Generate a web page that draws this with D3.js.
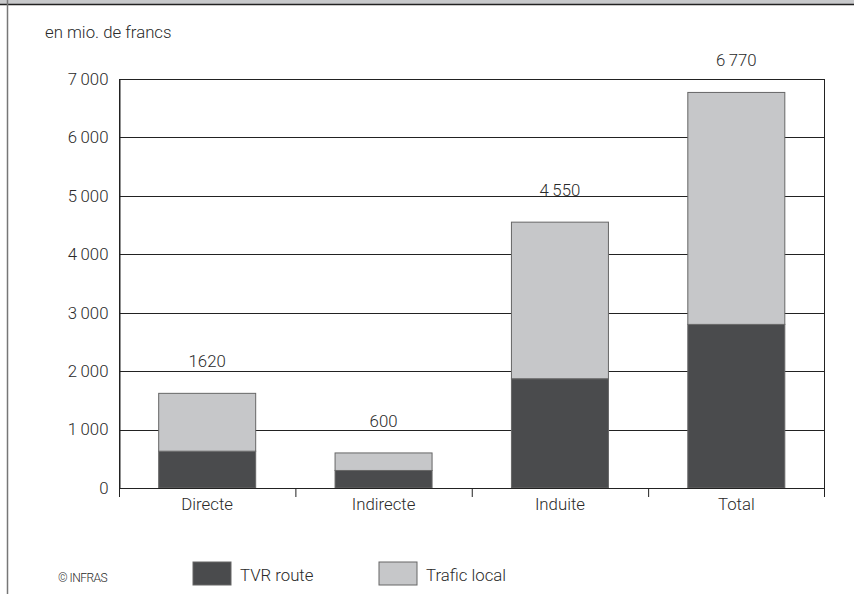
<!DOCTYPE html>
<html>
<head>
<meta charset="utf-8">
<script src="https://cdn.jsdelivr.net/npm/d3@7"></script>
<style>
  html, body { margin: 0; padding: 0; background: #fff; }
  svg { display: block; }
  text { font-family: Roboto, "Liberation Sans", sans-serif; font-weight: 300; fill: #2a2a2a; }
</style>
</head>
<body>
<div id="chart"></div>
<script>
const categories = ["Directe", "Indirecte", "Induite", "Total"];
const tvrRoute = [630, 300, 1870, 2800];
const traficLocal = [990, 300, 2680, 3970];
const totalLabels = ["1620", "600", "4\u2009550", "6\u2009770"];
const yTicks = [0, 1000, 2000, 3000, 4000, 5000, 6000, 7000];
const yTickLabels = ["0", "1\u2009000", "2\u2009000", "3\u2009000", "4\u2009000", "5\u2009000", "6\u2009000", "7\u2009000"];
const seriesNames = ["TVR route", "Trafic local"];
const seriesColors = ["#4a4b4d", "#c6c7c9"];

const W = 854, H = 594;
const svg = d3.select("#chart").append("svg").attr("width", W).attr("height", H);

// top band and left border
svg.append("rect").attr("x", 0).attr("y", 0).attr("width", W).attr("height", 4).attr("fill", "#c8c9cb");
svg.append("line").attr("x1", 0).attr("x2", W).attr("y1", 4.5).attr("y2", 4.5).attr("stroke", "#222").attr("stroke-width", 1.5);
svg.append("line").attr("x1", 7.5).attr("x2", 7.5).attr("y1", 0).attr("y2", H).attr("stroke", "#777").attr("stroke-width", 1.5);

const margin = { left: 119, right: 854 - 824.5, top: 79, bottom: 594 - 488 };
const x = d3.scaleBand().domain(categories).range([margin.left, W - margin.right]).paddingInner(0.45).paddingOuter(0.225);
const xBand = d3.scaleBand().domain(categories).range([margin.left, W - margin.right]).padding(0);
const y = d3.scaleLinear().domain([0, 7000]).range([H - margin.bottom, margin.top]);

const FS = 16.8;

// unit label
svg.append("text").attr("x", 45).attr("y", 38).attr("font-size", FS).text("en mio. de francs");

// gridlines
svg.append("g").selectAll("line").data(yTicks).join("line")
  .attr("x1", margin.left).attr("x2", W - margin.right)
  .attr("y1", d => Math.round(y(d)) + 0.5).attr("y2", d => Math.round(y(d)) + 0.5)
  .attr("stroke", "#222").attr("stroke-width", 1);

// y axis
const yAxis = d3.axisLeft(y).tickValues(yTicks).tickFormat((d, i) => yTickLabels[i]).tickSize(0).tickPadding(11);
const gy = svg.append("g").attr("transform", `translate(${margin.left + 0.5},0)`).call(yAxis);
gy.select(".domain").attr("stroke", "#222");
gy.selectAll("text").attr("font-size", FS).attr("font-family", null).style("fill", "#2a2a2a");

// left axis line extended below
svg.append("line").attr("x1", margin.left + 0.5).attr("x2", margin.left + 0.5)
  .attr("y1", y(7000)).attr("y2", y(0) + 9).attr("stroke", "#222");
// right border
svg.append("line").attr("x1", W - margin.right).attr("x2", W - margin.right)
  .attr("y1", y(7000)).attr("y2", y(0) + 9).attr("stroke", "#222");

// stacked bars
const rows = categories.map((c, i) => ({ cat: c, "TVR route": tvrRoute[i], "Trafic local": traficLocal[i] }));
const stack = d3.stack().keys(seriesNames)(rows);
svg.append("g").selectAll("g").data(stack).join("g")
  .attr("fill", (d, i) => seriesColors[i])
  .selectAll("rect").data(d => d).join("rect")
  .attr("x", d => x(d.data.cat))
  .attr("width", x.bandwidth())
  .attr("y", d => y(d[1]))
  .attr("height", d => y(d[0]) - y(d[1]))
  .attr("stroke", "#666").attr("stroke-width", 1);

// x axis
const xAxis = d3.axisBottom(xBand).tickSize(0).tickPadding(10);
const gx = svg.append("g").attr("transform", `translate(0,${y(0)})`).call(xAxis);
gx.select(".domain").attr("stroke", "#222");
gx.selectAll("text").attr("font-size", FS).attr("font-family", null).style("fill", "#2a2a2a");
// category separators
svg.append("g").selectAll("line").data(categories.slice(1)).join("line")
  .attr("x1", d => xBand(d) + 0.5).attr("x2", d => xBand(d) + 0.5)
  .attr("y1", y(0)).attr("y2", y(0) + 9).attr("stroke", "#222");

// totals
svg.append("g").selectAll("text").data(categories).join("text")
  .attr("x", d => x(d) + x.bandwidth() / 2)
  .attr("y", (d, i) => y(tvrRoute[i] + traficLocal[i]) - 26)
  .attr("text-anchor", "middle").attr("font-size", FS)
  .text((d, i) => totalLabels[i]);

// footer
svg.append("text").attr("x", 58).attr("y", 582).attr("font-size", 12).attr("letter-spacing", -0.5).text("\u00a9 INFRAS");

// legend
const legendX = [193, 379];
const lg = svg.append("g").selectAll("g").data(seriesNames).join("g")
  .attr("transform", (d, i) => `translate(${legendX[i]},562)`);
lg.append("rect").attr("width", 38).attr("height", 23)
  .attr("fill", (d, i) => seriesColors[i]).attr("stroke", "#666");
lg.append("text").attr("x", 47).attr("y", 19).attr("font-size", FS).text(d => d);
</script>
</body>
</html>
